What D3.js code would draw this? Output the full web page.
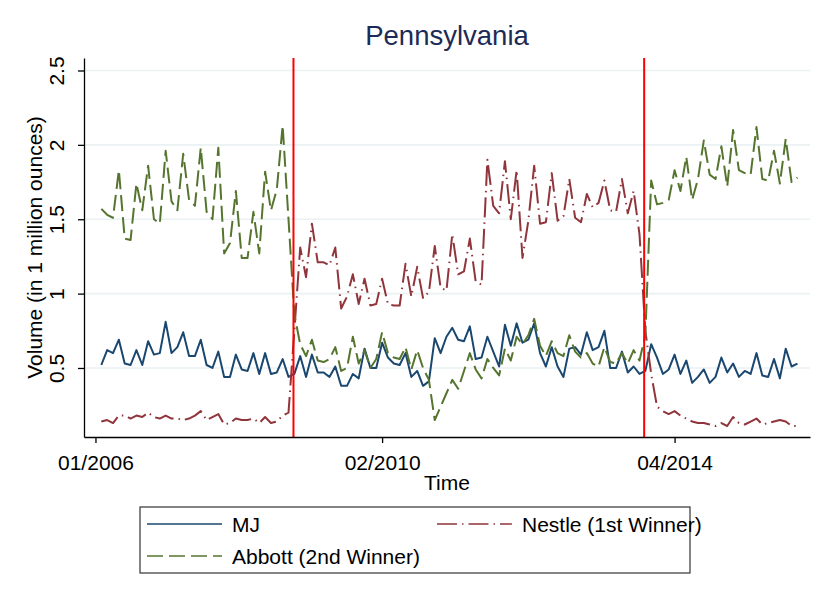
<!DOCTYPE html>
<html lang="en">
<head>
<meta charset="UTF-8">
<title>Pennsylvania</title>
<script src="https://d3js.org/d3.v7.min.js"></script>
<style>
  body { margin: 0; background: #fff; }
  svg { display: block; font-family: "Liberation Sans", Arial, sans-serif; }
</style>
</head>
<body>
<svg id="chart" width="830" height="604"></svg>
<script>
// month index: 0 = 01/2006, first observation is month 1
const firstMonth = 1;

const mj = [
  0.52, 0.62, 0.60, 0.69, 0.53, 0.52, 0.62, 0.52, 0.68, 0.59,
  0.60, 0.81, 0.60, 0.64, 0.74, 0.58, 0.58, 0.69, 0.52, 0.50,
  0.61, 0.44, 0.44, 0.59, 0.49, 0.48, 0.60, 0.46, 0.60, 0.46,
  0.47, 0.56, 0.44, 0.46, 0.58, 0.44, 0.59, 0.47, 0.47, 0.44,
  0.51, 0.38, 0.38, 0.46, 0.43, 0.63, 0.50, 0.50, 0.67, 0.57,
  0.53, 0.52, 0.60, 0.44, 0.48, 0.38, 0.41, 0.70, 0.60, 0.71,
  0.77, 0.69, 0.68, 0.78, 0.56, 0.57, 0.71, 0.61, 0.51, 0.79,
  0.65, 0.80, 0.67, 0.69, 0.80, 0.60, 0.51, 0.64, 0.51, 0.44,
  0.63, 0.64, 0.59, 0.74, 0.62, 0.64, 0.75, 0.50, 0.50, 0.61,
  0.47, 0.51, 0.46, 0.48, 0.66, 0.57, 0.46, 0.49, 0.59, 0.46,
  0.55, 0.40, 0.44, 0.49, 0.40, 0.44, 0.57, 0.47, 0.53, 0.44,
  0.48, 0.46, 0.60, 0.45, 0.44, 0.56, 0.43, 0.63, 0.51, 0.53
];

const nestle = [
  0.14, 0.15, 0.13, 0.18, 0.18, 0.16, 0.18, 0.17, 0.20, 0.17,
  0.16, 0.18, 0.16, 0.16, 0.15, 0.16, 0.18, 0.21, 0.15, 0.17,
  0.19, 0.12, 0.13, 0.16, 0.15, 0.15, 0.16, 0.13, 0.17, 0.13,
  0.14, 0.18, 0.20, 0.75, 1.31, 1.11, 1.47, 1.21, 1.21, 1.19,
  1.31, 0.90, 0.98, 1.13, 0.93, 1.10, 0.92, 0.93, 1.10, 0.93,
  0.92, 0.92, 1.20, 0.98, 1.18, 0.97, 1.01, 1.32, 1.04, 1.02,
  1.40, 1.13, 1.15, 1.37, 1.08, 1.06, 1.90, 1.59, 1.54, 1.89,
  1.50, 1.83, 1.24, 1.49, 1.86, 1.47, 1.48, 1.81, 1.49, 1.52,
  1.77, 1.51, 1.48, 1.67, 1.58, 1.61, 1.76, 1.56, 1.55, 1.77,
  1.54, 1.69, 1.40, 0.75, 0.46, 0.24, 0.21, 0.19, 0.21, 0.18,
  0.16, 0.14, 0.13, 0.13, 0.12, 0.11, 0.13, 0.11, 0.17, 0.13,
  0.12, 0.14, 0.16, 0.12, 0.13, 0.14, 0.15, 0.14, 0.11, 0.11
];

const abbott = [
  1.57, 1.53, 1.51, 1.83, 1.37, 1.36, 1.74, 1.56, 1.86, 1.50,
  1.47, 1.96, 1.62, 1.56, 1.94, 1.63, 1.59, 1.98, 1.55, 1.50,
  1.98, 1.27, 1.34, 1.69, 1.24, 1.24, 1.55, 1.27, 1.82, 1.56,
  1.70, 2.13, 1.50, 0.86, 0.66, 0.58, 0.69, 0.55, 0.54, 0.56,
  0.64, 0.48, 0.50, 0.71, 0.53, 0.62, 0.50, 0.56, 0.74, 0.60,
  0.57, 0.56, 0.64, 0.49, 0.62, 0.50, 0.42, 0.15, 0.24, 0.33,
  0.42, 0.36, 0.48, 0.60, 0.49, 0.43, 0.56, 0.50, 0.45, 0.63,
  0.55, 0.71, 0.66, 0.72, 0.83, 0.65, 0.58, 0.68, 0.60, 0.58,
  0.72, 0.61, 0.57, 0.60, 0.53, 0.51, 0.64, 0.54, 0.53, 0.60,
  0.53, 0.62, 0.55, 0.72, 1.76, 1.60, 1.61, 1.63, 1.83, 1.69,
  1.92, 1.63, 1.77, 2.03, 1.80, 1.77, 1.99, 1.72, 2.10, 1.83,
  1.81, 1.80, 2.12, 1.77, 1.76, 1.96, 1.74, 2.04, 1.75, 1.78
];

const seriesNames = ["MJ", "Nestle (1st Winner)", "Abbott (2nd Winner)"];
const tickMonths = [0, 49, 99];
const tickLabels = ["01/2006", "02/2010", "04/2014"];
const yTicks = [0.5, 1, 1.5, 2, 2.5];
const eventMonths = [33.85, 93.8];   // the two red contract-switch lines

const svg = d3.select("#chart");
svg.append("rect").attr("width", 830).attr("height", 604).attr("fill", "#fff");

const plotL = 84, plotR = 810, plotT = 58, plotB = 437;

const x = d3.scaleLinear().domain([-1.96, 122.15]).range([plotL, plotR]);
const y = d3.scaleLinear().domain([0.036, 2.584]).range([plotB, plotT]);

// grid
svg.append("g")
   .selectAll("line")
   .data(yTicks)
   .join("line")
   .attr("x1", plotL).attr("x2", plotR)
   .attr("y1", d => y(d)).attr("y2", d => y(d))
   .attr("stroke", "#eaf2f3")
   .attr("stroke-width", 1.6);

const series = [
  {name: seriesNames[0], values: mj,     color: "#1a476f", dash: null},
  {name: seriesNames[1], values: nestle, color: "#90353b", dash: "20,5,1.5,5"},
  {name: seriesNames[2], values: abbott, color: "#55752f", dash: "16,6"}
];

const line = d3.line()
   .x((d, i) => x(firstMonth + i))
   .y(d => y(d));

svg.append("g")
   .selectAll("path")
   .data(series)
   .join("path")
   .attr("d", d => line(d.values))
   .attr("fill", "none")
   .attr("stroke", d => d.color)
   .attr("stroke-width", 2)
   .attr("stroke-linejoin", "round")
   .attr("stroke-dasharray", d => d.dash);

// red vertical lines
svg.append("g")
   .selectAll("line")
   .data(eventMonths)
   .join("line")
   .attr("x1", d => x(d)).attr("x2", d => x(d))
   .attr("y1", plotT).attr("y2", plotB)
   .attr("stroke", "#ff0000")
   .attr("stroke-width", 2);

// axes
const xAxis = svg.append("g")
   .attr("transform", `translate(0,${plotB})`)
   .call(d3.axisBottom(x).tickValues(tickMonths)
         .tickFormat((d, i) => tickLabels[i]).tickSize(6).tickSizeOuter(0).tickPadding(12));

const yAxis = svg.append("g")
   .attr("transform", `translate(${plotL},0)`)
   .call(d3.axisLeft(y).tickValues(yTicks)
         .tickFormat(d3.format("")).tickSize(6).tickSizeOuter(0));

[xAxis, yAxis].forEach(g => {
  g.select(".domain").attr("stroke", "#000").attr("stroke-width", 1.3);
  g.selectAll(".tick line").attr("stroke", "#000").attr("stroke-width", 1.3);
  g.selectAll("text").attr("fill", "#000").attr("font-size", 21)
   .attr("font-family", '"Liberation Sans", Arial, sans-serif');
});

xAxis.selectAll("text").attr("dy", "0.71em");

yAxis.selectAll(".tick text")
   .attr("transform", "rotate(-90)")
   .attr("x", 0)
   .attr("y", -20)
   .attr("dy", 0)
   .attr("text-anchor", "middle");

// titles
svg.append("text")
   .attr("x", (plotL + plotR) / 2).attr("y", 45)
   .attr("text-anchor", "middle")
   .attr("font-size", 27.5)
   .attr("fill", "#1c2b55")
   .text("Pennsylvania");

svg.append("text")
   .attr("x", (plotL + plotR) / 2).attr("y", 490)
   .attr("text-anchor", "middle")
   .attr("font-size", 21)
   .text("Time");

svg.append("text")
   .attr("transform", `translate(42,${(plotT + plotB) / 2}) rotate(-90)`)
   .attr("text-anchor", "middle")
   .attr("font-size", 21)
   .text("Volume (in 1 million ounces)");

// legend
const legend = svg.append("g");
legend.append("rect")
   .attr("x", 140).attr("y", 507)
   .attr("width", 550).attr("height", 66)
   .attr("fill", "#fff")
   .attr("stroke", "#333")
   .attr("stroke-width", 1.2);

const slots = [[147, 524], [437, 524], [147, 556]];
const items = legend.selectAll("g.item")
   .data(series)
   .join("g")
   .attr("class", "item")
   .attr("transform", (d, i) => `translate(${slots[i][0]},${slots[i][1]})`);

items.append("line")
   .attr("x1", 0).attr("x2", 75)
   .attr("stroke", d => d.color)
   .attr("stroke-width", 1.4)
   .attr("stroke-dasharray", d => d.dash);

items.append("text")
   .attr("x", 85).attr("y", 7.5)
   .attr("font-size", 21)
   .text(d => d.name);
</script>
</body>
</html>
